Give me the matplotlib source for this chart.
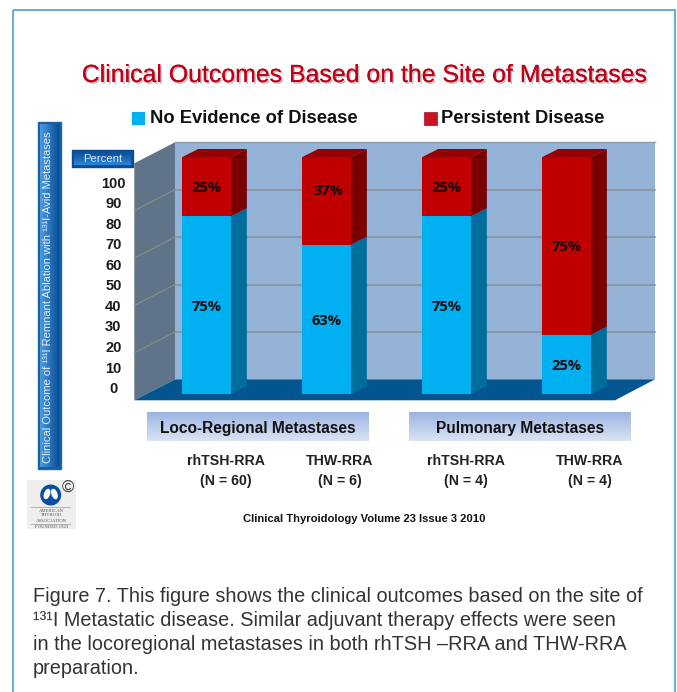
import numpy as np
import matplotlib
matplotlib.use("Agg")
import matplotlib.pyplot as plt
import matplotlib.patheffects as pe
from matplotlib.patches import Rectangle, Polygon, Circle, Ellipse
from matplotlib.colors import LinearSegmentedColormap

# ---------- data ----------
groups = ["rhTSH-RRA\n(N = 60)", "THW-RRA\n(N = 6)", "rhTSH-RRA\n(N = 4)", "THW-RRA\n(N = 4)"]
no_evidence = [75, 63, 75, 25]
persistent = [25, 37, 25, 75]
percent_ticks = [0, 10, 20, 30, 40, 50, 60, 70, 80, 90, 100]
grid_values = [20, 40, 60, 80]
sites = ["Loco-Regional Metastases", "Pulmonary Metastases"]
title = "Clinical Outcomes Based on the Site of Metastases"
series_names = ["No Evidence of Disease", "Persistent Disease"]
y_title = "Clinical Outcome of ¹³¹I Remnant Ablation with ¹³¹I-Avid Metastases"
source = "Clinical Thyroidology Volume 23 Issue 3 2010"
caption = ["Figure 7. This figure shows the clinical outcomes based on the site of",
           "¹³¹I Metastatic disease. Similar adjuvant therapy effects were seen",
           "in the locoregional metastases in both rhTSH –RRA and THW-RRA",
           "preparation."]

W, H = 677, 692
fig = plt.figure(figsize=(W / 100, H / 100), dpi=100, facecolor="white")

# pixel overlay for decoration
ov = fig.add_axes([0, 0, 1, 1], zorder=1)
ov.set_xlim(0, W); ov.set_ylim(H, 0); ov.axis("off")

# bar axes: full figure, x in category index, y in percent
PX_X, PX_Y = 120.0, 2.37
X0, Y0 = 206.6, 394.0
ax = fig.add_axes([0, 0, 1, 1], zorder=2)
ax.set_xlim(-X0 / PX_X, (W - X0) / PX_X)
ax.set_ylim((Y0 - H) / PX_Y, Y0 / PX_Y)
ax.axis("off"); ax.patch.set_alpha(0)

text_ax = fig.add_axes([0, 0, 1, 1], zorder=3)
text_ax.set_xlim(0, W); text_ax.set_ylim(H, 0); text_ax.axis("off"); text_ax.patch.set_alpha(0)

SANS = "Liberation Sans"
BODY = "Open Sans"

def grad(a, extent, c0, c1, z=1, horizontal=False):
    cm = LinearSegmentedColormap.from_list("g", [c0, c1])
    arr = np.linspace(0, 1, 64)
    arr = arr[None, :] if horizontal else arr[:, None]
    a.imshow(arr, extent=extent, cmap=cm, aspect="auto", zorder=z, origin="upper")

# frame
ov.add_patch(Rectangle((12.5, 9.5), 662.5, 700, fill=False, ec="#4A9FD4", lw=1.2, zorder=0))

# --- 3-D chart box ---
bx_l, bx_r = (134.3 - X0) / PX_X, (175 - X0) / PX_X     # left wall front / back
bk_r, fl_r = (655 - X0) / PX_X, (615 - X0) / PX_X        # back wall right, floor right front
d_back = (Y0 - 379.3) / PX_Y
d_front = (Y0 - 400.3) / PX_Y
ax.add_patch(Rectangle((bx_r, d_back), bk_r - bx_r, 100, fc="#95B3D7", ec="none", zorder=1))
ax.add_patch(Polygon([(bx_l, d_front), (bx_r, d_back), (bx_r, 100 + d_back), (bx_l, 100 + d_front)],
                     fc="#5F7389", ec="none", zorder=1))
ax.add_patch(Polygon([(bx_l, d_front), (bx_r, d_back), (bk_r, d_back), (fl_r, d_front)],
                     fc="#02558F", ec="none", zorder=1))
ax.plot([bx_r, bk_r], [100 + d_back] * 2, color="#8F9AA8", lw=1.0, zorder=1.5)
for v in grid_values:
    ax.plot([bx_r, bk_r], [v + d_back] * 2, color="#8C8F96", lw=1.1, zorder=1.5)
    ax.plot([bx_l, bx_r], [v + d_front, v + d_back], color="#8E8E86", lw=0.8, zorder=1.5)

# --- bars ---
BAR_W = 48.5 / PX_X
DX, DY = 16 / PX_X, 8 / PX_Y
x = np.arange(len(groups))
ax.bar(x, no_evidence, BAR_W, color="#00B0F0", zorder=3)
ax.bar(x, persistent, BAR_W, bottom=no_evidence, color="#C00000", zorder=3)
for xi, a, b in zip(x, no_evidence, persistent):
    r = xi + BAR_W / 2
    l = xi - BAR_W / 2
    ax.add_patch(Polygon([(r, 0), (r + DX, DY), (r + DX, a + DY), (r, a)], fc="#006E9C", ec="none", zorder=2.9))
    ax.add_patch(Polygon([(r, a), (r + DX, a + DY), (r + DX, a + b + DY), (r, a + b)], fc="#7A0000", ec="none", zorder=2.9))
    ax.add_patch(Polygon([(l, a + b), (l + DX, a + b + DY), (r + DX, a + b + DY), (r, a + b)], fc="#940000", ec="none", zorder=2.9))
    for val, base in ((a, 0), (b, a)):
        yc = base + val / 2
        nudge_y = -11 if val == 37 else 0
        nudge_x = 2 if val == 37 else 0
        text_ax.text(X0 + xi * PX_X + nudge_x, Y0 - yc * PX_Y + 1.5 + nudge_y, f"{val}%",
                     ha="center", va="center", family=BODY, weight="bold", fontsize=10.5, color="#0A0A0A")

# --- title ---
text_ax.text(363.5, 75, title, ha="center", va="center", family=SANS, fontsize=17.9, color="#C00018",
             path_effects=[pe.withSimplePatchShadow(offset=(1.2, -1.2), shadow_rgbFace="#999999", alpha=0.6), pe.Normal()])

# --- legend ---
ov.add_patch(Rectangle((132, 112), 13, 13, fc="#00B0F0", ec="none"))
ov.add_patch(Rectangle((424, 112), 13, 13, fc="#C8141E", ec="#A01020", lw=0.5))
text_ax.text(150, 118.5, series_names[0], ha="left", va="center", family=SANS, weight="bold", fontsize=13.25, color="#111111")
text_ax.text(441, 118.5, series_names[1], ha="left", va="center", family=SANS, weight="bold", fontsize=13.25, color="#111111")

# --- vertical title bar ---
ov.add_patch(Rectangle((38, 122), 23, 347, fc="#0F5DA8", ec="#2168A8", lw=1, zorder=1))
grad(ov, (40, 59, 467, 124), "#4A9BE0", "#0A4F96", z=1.5, horizontal=True)
text_ax.text(48, 297.5, y_title, rotation=90, ha="center", va="center", family=SANS, fontsize=8.0, color="#E8F1FA")

# --- percent box ---
ov.add_patch(Rectangle((72, 150), 61, 17, fc="#0D4F9A", ec="#0B4A90", lw=1, zorder=1))
grad(ov, (74, 131, 165, 152), "#0A4F9C", "#2B84D6", z=1.5)
text_ax.text(102.5, 158.5, "Percent", ha="center", va="center", family=SANS, fontsize=8.2, color="#DCE9F7")

# --- percent scale ---
tk = fig.add_axes([125 / W, 1 - 387.7 / H, 0.001, (387.7 - 182) / H], zorder=3)
tk.set_ylim(0, 100); tk.set_yticks(percent_ticks); tk.set_xticks([])
tk.patch.set_alpha(0)
for s in tk.spines.values():
    s.set_visible(False)
tk.tick_params(axis="y", length=0, pad=8.4, labelsize=10.5)
for lab in tk.get_yticklabels():
    lab.set_ha("center"); lab.set_family(SANS); lab.set_weight("bold"); lab.set_color("#1A1A1A")

# --- site bands ---
for (l, r), name in zip([(147, 369), (409, 631)], sites):
    grad(ov, (l, r, 441, 412), "#9CB4E2", "#DAE3F4", z=1)
    text_ax.text((l + r) / 2, 428, name, ha="center", va="center",
                 family=SANS, weight="bold", fontsize=11.2, color="#111111")

# --- group labels ---
for cx, g in zip([226, 340, 466, 590], groups):
    a, b = g.split("\n")
    text_ax.text(cx, 461, a, ha="center", va="center", family=SANS, weight="bold", fontsize=10.2, color="#222222")
    text_ax.text(cx, 481, b, ha="center", va="center", family=SANS, weight="bold", fontsize=10.2, color="#222222")

text_ax.text(364, 519, source, ha="center", va="center", family=SANS, weight="bold", fontsize=8.1, color="#111111")

# --- logo ---
ov.add_patch(Rectangle((27, 480), 49, 49, fc="#EEEEEE", ec="none", zorder=1))
ov.add_patch(Circle((50.7, 495), 10.5, fc="#0B4DA2", ec="none", zorder=2))
ov.add_patch(Ellipse((47, 494), 6, 11, angle=20, fc="white", ec="none", zorder=3))
ov.add_patch(Ellipse((54.4, 494), 6, 11, angle=-20, fc="white", ec="none", zorder=3))
ov.plot([31, 70], [507, 507], color="#AAAAAA", lw=0.6, zorder=3)
ov.plot([31, 70], [524, 524], color="#AAAAAA", lw=0.6, zorder=3)
text_ax.text(67.5, 488, "©", ha="center", va="center", family=SANS, fontsize=12, color="#333333")
for yy, t in zip([510.5, 515.5, 520.5, 527], ["AMERICAN", "THYROID", "ASSOCIATION", "FOUNDED 1923"]):
    text_ax.text(51.5, yy, t, ha="center", va="center", family="Liberation Serif", fontsize=3.4, color="#555555")

# --- caption ---
for yy, t in zip([597, 620, 645, 669], caption):
    text_ax.text(33, yy, t, ha="left", va="center", family=SANS, fontsize=14.3, color="#333333")

fig.savefig("out.png", dpi=100, facecolor="white")
